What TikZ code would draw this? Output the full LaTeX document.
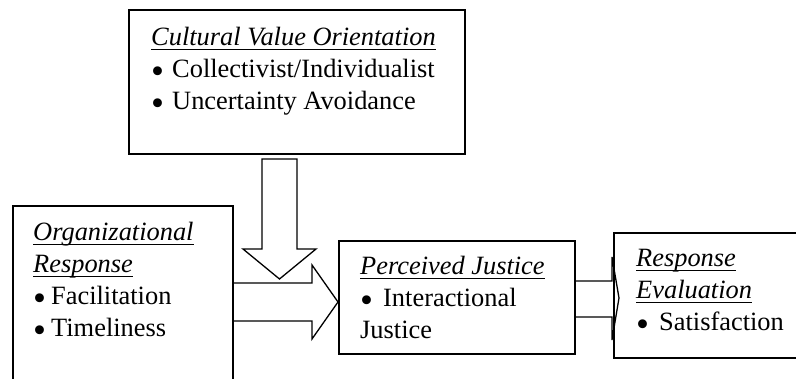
\documentclass[tikz,border=0pt]{standalone}
\usepackage{fontspec}
\setmainfont{Liberation Serif}
\usetikzlibrary{calc}
\newsavebox\hdbox
\newcommand{\hd}[1]{\sbox\hdbox{\textit{#1}}\usebox\hdbox\llap{\rule[-4pt]{\wd\hdbox}{1.2pt}}}
\newcommand{\bul}[1][21pt]{\makebox[#1][l]{\smash{\raisebox{-5.5pt}{\fontsize{37}{32}\selectfont\textbullet}}}}

\begin{document}
\begin{tikzpicture}[x=1pt,y=-1pt,
	box/.style={draw,line width=1.8pt,inner sep=0pt,outer sep=0pt,anchor=north west},
	txt/.style={anchor=base west,inner sep=0pt,align=left,font=\fontsize{26.4}{32}\selectfont},
	fat/.style={draw,line width=1.3pt,line join=miter}]
	\path[use as bounding box] (0,0) rectangle (796,379);
	\clip (0,0) rectangle (796,379);
	% boxes
	\node[box,minimum width=336,minimum height=144] (cvo) at (129,10) {};
	\node[box,minimum width=220,minimum height=200] (org) at (13,206) {};
	\node[box,minimum width=236,minimum height=113] (pj) at (339,241) {};
	\node[box,minimum width=200,minimum height=125] (re) at (614,233) {};
	% texts (anchored on the last line)
	\node[txt] (cvot) at (151,110) {\hd{Cultural Value Orientation}\\
		\bul Collectivist/Individualist\\
		\bul Uncertainty Avoidance};
	\node[txt] (orgt) at (33,337) {\hd{Organizational}\\
		\hd{Response}\\
		\bul[18pt]Facilitation\\
		\bul[18pt]Timeliness};
	\node[txt] (pjt) at (360,339) {\hd{Perceived Justice}\\
		\bul[23pt]Interactional\\
		Justice};
	\node[txt] (ret) at (636,331) {\hd{Response}\\
		\hd{Evaluation}\\
		\bul[23pt]Satisfaction};
	% fat arrows
	\draw[fat] ($(cvo.south west)+(133,5)$) -- ++(0,90) -- ++(-19,0) -- ++(36.5,30)
		-- ++(36.5,-30) -- ++(-19,0) -- ++(0,-90) -- cycle;
	\draw[fat] ($(org.north east)+(0,77)$) -- ++(79,0) -- ++(0,-18) -- ++(26,37)
		-- ++(-26,37) -- ++(0,-18) -- ++(-79,0);
	\draw[fat] ($(pj.north east)+(0,40)$) -- ++(37,0) -- ++(0,-24) -- ++(7,41)
		-- ++(-7,42) -- ++(0,-23) -- ++(-37,0);
\end{tikzpicture}
\end{document}
